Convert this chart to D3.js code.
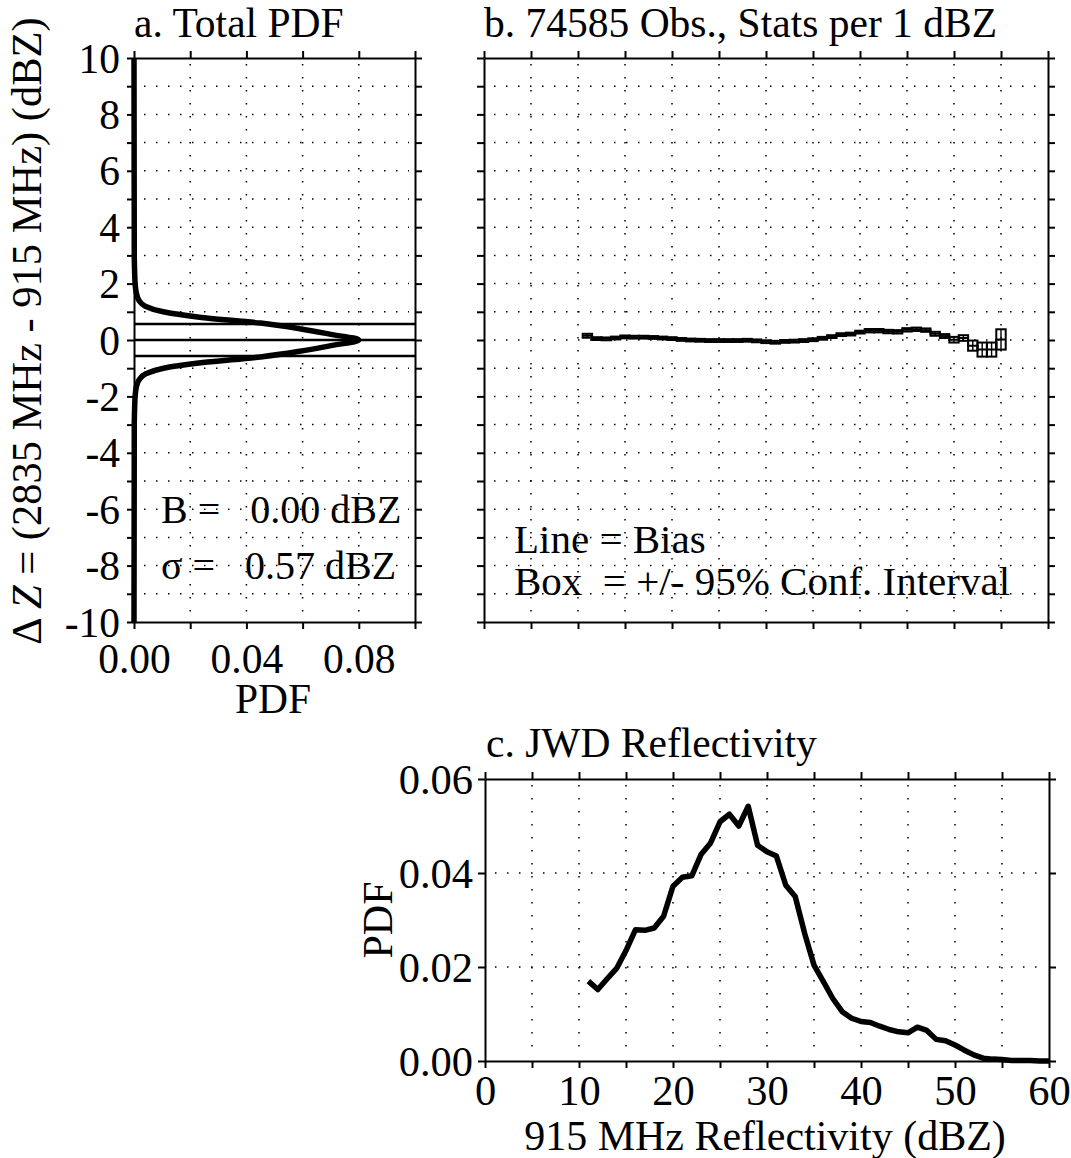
<!DOCTYPE html>
<html>
<head>
<meta charset="utf-8">
<script src="https://cdn.jsdelivr.net/npm/d3@7"></script>
<style>
  body { margin: 0; background: #fff; }
  svg text { font-family: "Liberation Serif", "Times New Roman", serif; fill: #000; }
</style>
</head>
<body>
<div id="chart"></div>
<script>
// a. total PDF of the reflectivity difference
const deltaZ = [-10, -3, -2.5, -2, -1.8, -1.6, -1.4, -1.2, -1.0, -0.8, -0.6, -0.4, -0.2, 0,
  0.2, 0.4, 0.6, 0.8, 1.0, 1.2, 1.4, 1.6, 1.8, 2.0, 2.5, 3, 10];
const totalPdf = [0, 0.0001, 0.0002, 0.0004, 0.0006, 0.001, 0.0019, 0.0042, 0.0105, 0.0245, 0.045, 0.059, 0.070, 0.080,
  0.070, 0.059, 0.045, 0.024, 0.0104, 0.0040, 0.0018, 0.001, 0.0006, 0.0004, 0.0002, 0.0001, 0];
const biasLines = [-0.57, 0, 0.57];

// b. bias per 1 dBZ bin with 95% confidence half-width
const binCenters = [11, 12, 13, 14, 15, 16, 17, 18, 19, 20, 21, 22, 23, 24, 25, 26, 27, 28, 29, 30,
  31, 32, 33, 34, 35, 36, 37, 38, 39, 40, 41, 42, 43, 44, 45, 46, 47, 48, 49, 50, 51, 52, 53, 54, 55];
const binBias = [0.15, 0.05, 0.04, 0.07, 0.11, 0.10, 0.10, 0.09, 0.07, 0.05, 0.02, 0.00, -0.01, -0.02, -0.02,
  -0.02, -0.02, -0.01, -0.03, -0.06, -0.08, -0.05, -0.04, -0.02, 0.01, 0.06, 0.12, 0.19, 0.21, 0.28,
  0.33, 0.33, 0.30, 0.29, 0.36, 0.38, 0.35, 0.22, 0.14, 0.01, 0.07, -0.20, -0.34, -0.34, 0.02];
const binConf = [0.07, 0.05, 0.05, 0.05, 0.05, 0.05, 0.05, 0.05, 0.05, 0.05, 0.05, 0.05, 0.05, 0.05, 0.05,
  0.05, 0.05, 0.05, 0.05, 0.05, 0.05, 0.05, 0.05, 0.05, 0.05, 0.05, 0.05, 0.05, 0.05, 0.05,
  0.06, 0.06, 0.06, 0.06, 0.06, 0.06, 0.06, 0.07, 0.07, 0.10, 0.10, 0.18, 0.25, 0.25, 0.36];

// c. PDF of 915 MHz reflectivity
const reflDbz = [11, 12, 13, 14, 15, 16, 17, 18, 19, 20, 21, 22, 23, 24, 25, 26, 27, 28, 29, 30,
  31, 32, 33, 34, 35, 36, 37, 38, 39, 40, 41, 42, 43, 44, 45, 46, 47, 48, 49, 50,
  51, 52, 53, 54, 55, 56, 57, 58, 59, 60];
const reflPdf = [0.0170, 0.0152, 0.0175, 0.0197, 0.0235, 0.0279, 0.0278, 0.0283, 0.0308, 0.0372,
  0.0391, 0.0394, 0.0440, 0.0464, 0.0509, 0.0525, 0.0500, 0.0542, 0.0459, 0.0445,
  0.0436, 0.0374, 0.0350, 0.0272, 0.0204, 0.0169, 0.0133, 0.0105, 0.0091, 0.0084,
  0.0082, 0.0074, 0.0067, 0.0062, 0.0060, 0.0072, 0.0065, 0.0046, 0.0043, 0.0034,
  0.0023, 0.0013, 0.0006, 0.0004, 0.0003, 0.0001, 0.0001, 0.0001, 0, 0];

// ticks
const dzTicks = [-10, -9, -8, -7, -6, -5, -4, -3, -2, -1, 0, 1, 2, 3, 4, 5, 6, 7, 8, 9, 10];
const dzLabels = [-10, -8, -6, -4, -2, 0, 2, 4, 6, 8, 10];
const pdfTicksA = [0, 0.02, 0.04, 0.06, 0.08, 0.10];
const pdfLabelsA = [0, 0.04, 0.08];
const dbzTicks = [0, 5, 10, 15, 20, 25, 30, 35, 40, 45, 50, 55, 60];
const dbzLabels = [0, 10, 20, 30, 40, 50, 60];
const pdfTicksC = [0, 0.02, 0.04, 0.06];

const width = 1071, height = 1158;
const FS = 41.5;

const svg = d3.select("#chart").append("svg")
  .attr("width", width).attr("height", height);

// scales
const xA = d3.scaleLinear().domain([0, 0.10]).range([134, 415]);
const yA = d3.scaleLinear().domain([-10, 10]).range([622, 58]);
const xB = d3.scaleLinear().domain([0, 60]).range([484, 1048]);
const yB = d3.scaleLinear().domain([-10, 10]).range([622, 58]);
const xC = d3.scaleLinear().domain([0, 60]).range([485, 1049]);
const yC = d3.scaleLinear().domain([0, 0.06]).range([1061, 779]);

function dotted(g, x, y, gx, gy) {
  const [x0, x1] = x.range(), [y1, y0] = y.range();
  g.append("g").selectAll("line").data(gx).join("line")
    .attr("x1", d => x(d)).attr("x2", d => x(d))
    .attr("y1", y0 + 6).attr("y2", y1 - 4)
    .attr("stroke", "#000").attr("stroke-width", 1.5).attr("stroke-dasharray", "1.5,11.5");
  g.append("g").selectAll("line").data(gy).join("line")
    .attr("x1", x0 + 10).attr("x2", x1 - 6)
    .attr("y1", d => y(d)).attr("y2", d => y(d))
    .attr("stroke", "#000").attr("stroke-width", 1.5).attr("stroke-dasharray", "1.5,10.5");
}

function axes(x, y, o) {
  const [x0, x1] = x.range(), [y1, y0] = y.range();
  const fmt = (labels, f) => d => labels.some(v => Math.abs(v - d) < 1e-9) ? f(d) : "";
  const none = () => "";
  const style = sel => {
    sel.attr("font-family", null).attr("font-size", null);
    sel.select(".domain").attr("stroke", "#000").attr("stroke-width", 2);
    sel.selectAll(".tick line").attr("stroke", "#000").attr("stroke-width", 2);
    sel.selectAll(".tick text").attr("font-size", o.fs || FS);
  };
  svg.append("g").attr("transform", `translate(${x0},0)`)
    .call(d3.axisLeft(y).tickValues(o.yTicks).tickSize(7).tickSizeOuter(0)
      .tickFormat(o.yLabels ? fmt(o.yLabels, o.yFmt) : none))
    .call(style)
    .call(s => s.selectAll(".tick text").attr("x", -o.yOff).attr("dy", "0.34em"));
  svg.append("g").attr("transform", `translate(${x1},0)`)
    .call(d3.axisRight(y).tickValues(o.yTicks).tickSize(7).tickSizeOuter(0).tickFormat(none))
    .call(style);
  svg.append("g").attr("transform", `translate(0,${y0})`)
    .call(d3.axisTop(x).tickValues(o.xTicks).tickSize(7).tickSizeOuter(0).tickFormat(none))
    .call(style);
  svg.append("g").attr("transform", `translate(0,${y1})`)
    .call(d3.axisBottom(x).tickValues(o.xTicks).tickSize(7).tickSizeOuter(0)
      .tickFormat(o.xLabels ? fmt(o.xLabels, o.xFmt) : none))
    .call(style)
    .call(s => s.selectAll(".tick text").attr("y", o.xOff).attr("dy", 0));
}

// ---------- panel a ----------
const gA = svg.append("g");
dotted(gA, xA, yA, [0.02, 0.04, 0.06, 0.08], dzTicks.filter(d => d > -10 && d < 10));

gA.selectAll(".bline").data(biasLines).join("line")
  .attr("x1", xA(0)).attr("x2", xA(0.10))
  .attr("y1", d => yA(d)).attr("y2", d => yA(d))
  .attr("stroke", "#000").attr("stroke-width", 2.5);

gA.append("path")
  .datum(deltaZ.map((d, i) => [totalPdf[i], d]))
  .attr("fill", "none").attr("stroke", "#000").attr("stroke-width", 5.5)
  .attr("stroke-linejoin", "round")
  .attr("d", d3.line().x(d => xA(d[0])).y(d => yA(d[1])).curve(d3.curveMonotoneY));

axes(xA, yA, {
  yTicks: dzTicks, yLabels: dzLabels, yFmt: d => String(d), yOff: 14,
  xTicks: pdfTicksA, xLabels: pdfLabelsA, xFmt: d3.format(".2f"), xOff: 51
});

svg.append("text").attr("x", 134).attr("y", 37).attr("font-size", FS).text("a. Total PDF");
svg.append("text").attr("x", 273).attr("y", 713).attr("font-size", FS)
  .attr("text-anchor", "middle").text("PDF");
svg.append("text").attr("transform", "translate(41,331) rotate(-90)")
  .attr("font-size", 42.5).attr("text-anchor", "middle")
  .call(t => {
    t.append("tspan").text("\u0394 ");
    t.append("tspan").attr("font-style", "italic").text("Z");
    t.append("tspan").text(" = (2835 MHz - 915 MHz) (dBZ)");
  });
svg.append("text").attr("x", 161).attr("y", 523).attr("font-size", 40)
  .style("white-space", "pre").text("B =   0.00 dBZ");
svg.append("text").attr("x", 161).attr("y", 579).attr("font-size", 40)
  .style("white-space", "pre").text("\u03c3 =   0.57 dBZ");

// ---------- panel b ----------
const gB = svg.append("g");
dotted(gB, xB, yB, dbzTicks.filter(d => d > 0 && d < 60), dzTicks.filter(d => d > -10 && d < 10));

const bins = binCenters.map((c, i) => ({ c, b: binBias[i], e: binConf[i] }));
gB.selectAll(".box").data(bins).join("rect")
  .attr("x", d => xB(d.c - 0.5)).attr("width", d => xB(d.c + 0.5) - xB(d.c - 0.5))
  .attr("y", d => yB(d.b + d.e)).attr("height", d => yB(d.b - d.e) - yB(d.b + d.e))
  .attr("fill", "none").attr("stroke", "#000").attr("stroke-width", 2);
gB.selectAll(".mid").data(bins).join("line")
  .attr("x1", d => xB(d.c)).attr("x2", d => xB(d.c))
  .attr("y1", d => yB(d.b + d.e)).attr("y2", d => yB(d.b - d.e))
  .attr("stroke", "#000").attr("stroke-width", 1.4);
gB.append("path")
  .datum(bins.flatMap(d => [[d.c - 0.5, d.b], [d.c + 0.5, d.b]]))
  .attr("fill", "none").attr("stroke", "#000").attr("stroke-width", 2)
  .attr("d", d3.line().x(d => xB(d[0])).y(d => yB(d[1])));

axes(xB, yB, { yTicks: dzTicks, xTicks: dbzTicks });

svg.append("text").attr("x", 484).attr("y", 37).attr("font-size", FS)
  .text("b. 74585 Obs., Stats per 1 dBZ");
svg.append("text").attr("x", 514).attr("y", 553).attr("font-size", 41)
  .style("white-space", "pre").text("Line = Bias");
svg.append("text").attr("x", 514).attr("y", 595).attr("font-size", 41)
  .style("white-space", "pre").text("Box  = +/- 95% Conf. Interval");

// ---------- panel c ----------
const gC = svg.append("g");
dotted(gC, xC, yC, dbzTicks.filter(d => d > 0 && d < 60), [0.02, 0.04]);

gC.append("path")
  .datum(reflDbz.map((d, i) => [d, reflPdf[i]]))
  .attr("fill", "none").attr("stroke", "#000").attr("stroke-width", 5.5)
  .attr("stroke-linejoin", "round")
  .attr("d", d3.line().x(d => xC(d[0])).y(d => yC(d[1])));

axes(xC, yC, {
  yTicks: pdfTicksC, yLabels: pdfTicksC, yFmt: d3.format(".2f"), yOff: 12,
  xTicks: dbzTicks, xLabels: dbzLabels, xFmt: d => String(d), xOff: 44, fs: 42.5
});

svg.append("text").attr("x", 486).attr("y", 757).attr("font-size", FS).text("c. JWD Reflectivity");
svg.append("text").attr("transform", "translate(392,920) rotate(-90)")
  .attr("font-size", 42).attr("text-anchor", "middle").text("PDF");
svg.append("text").attr("x", 765).attr("y", 1150).attr("font-size", 42)
  .attr("text-anchor", "middle").text("915 MHz Reflectivity (dBZ)");
</script>
</body>
</html>
